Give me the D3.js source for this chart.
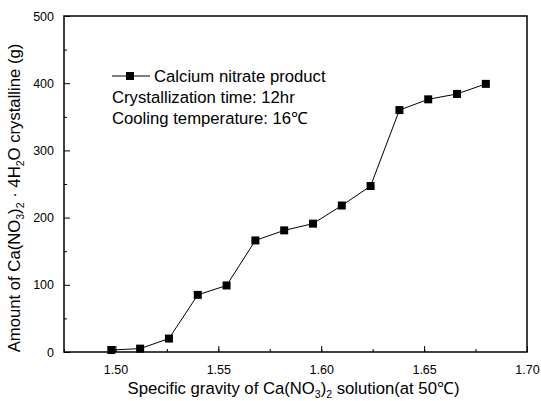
<!DOCTYPE html>
<html>
<head>
<meta charset="utf-8">
<script src="https://cdn.jsdelivr.net/npm/d3@7"></script>
<style>
  body { margin: 0; background: #fff; }
  text { font-family: "Liberation Sans", Arial, sans-serif; fill: #000; }
</style>
</head>
<body>
<svg id="chart"></svg>
<script>
// Data
const gravity = [1.498, 1.512, 1.526, 1.540, 1.554, 1.568, 1.582, 1.596, 1.610, 1.624, 1.638, 1.652, 1.666, 1.680];
const amount = [3, 5, 20, 85, 99, 166, 181, 191, 218, 247, 360, 376, 384, 399];
const xTicks = [1.50, 1.55, 1.60, 1.65, 1.70];
const yTicks = [0, 100, 200, 300, 400, 500];
const legendLines = ["Crystallization time: 12hr", "Cooling temperature: 16\u2103"];

const margin = { top: 16, right: 14, bottom: 49, left: 64 };
const W = 541, H = 401;
const width = W - margin.left - margin.right;
const height = H - margin.top - margin.bottom;
const big = "16.7px";

const svg = d3.select("#chart").attr("width", W).attr("height", H);
const g = svg.append("g").attr("transform", `translate(${margin.left},${margin.top})`);

const x = d3.scaleLinear().domain([1.475, 1.70]).range([0, width]);
const y = d3.scaleLinear().domain([0, 500]).range([height, 0]);

// minor ticks
const xMinor = d3.range(1.475, 1.7001, 0.025);
const yMinor = d3.range(50, 500, 100);

g.append("g")
  .attr("transform", `translate(0,${height})`)
  .call(d3.axisBottom(x).tickValues(xMinor).tickSize(-3).tickFormat(""))
  .call(a => a.select(".domain").remove());
g.append("g")
  .call(d3.axisLeft(y).tickValues(yMinor).tickSize(-3).tickFormat(""))
  .call(a => a.select(".domain").remove());

const xAxis = g.append("g")
  .attr("transform", `translate(0,${height})`)
  .call(d3.axisBottom(x).tickValues(xTicks).tickSize(-6).tickPadding(13).tickFormat(d3.format(".2f")));
xAxis.select(".domain").remove();
xAxis.selectAll("text").style("font-size", "12.5px");

const yAxis = g.append("g")
  .call(d3.axisLeft(y).tickValues(yTicks).tickSize(-6).tickPadding(10));
yAxis.select(".domain").remove();
yAxis.selectAll("text").style("font-size", "12.5px");

// frame
g.append("rect")
  .attr("width", width).attr("height", height)
  .attr("fill", "none").attr("stroke", "#000").attr("stroke-width", 1.5);

// series
const pts = gravity.map((v, i) => [v, amount[i]]);
g.append("path")
  .datum(pts)
  .attr("fill", "none").attr("stroke", "#000").attr("stroke-width", 1)
  .attr("d", d3.line().x(d => x(d[0])).y(d => y(d[1])));

const s = 8;
g.selectAll(".pt").data(pts).enter().append("rect")
  .attr("class", "pt")
  .attr("x", d => x(d[0]) - s / 2).attr("y", d => y(d[1]) - s / 2)
  .attr("width", s).attr("height", s).attr("fill", "#000");

// legend
const lg = svg.append("g").attr("transform", "translate(112,76)");
lg.append("line").attr("x1", 0).attr("x2", 38).attr("y1", 0).attr("y2", 0).attr("stroke", "#000");
lg.append("rect").attr("x", 14).attr("y", -4).attr("width", 8).attr("height", 8).attr("fill", "#000");
lg.append("text").attr("x", 42).attr("y", 0).attr("dy", "0.36em").style("font-size", big).text("Calcium nitrate product");
lg.selectAll(".note").data(legendLines).enter().append("text")
  .attr("class", "note")
  .attr("x", 0).attr("y", (d, i) => 21 + i * 20.5).attr("dy", "0.36em")
  .style("font-size", big).text(d => d);

// x title
const xt = svg.append("text")
  .attr("x", margin.left + width / 2 - 2).attr("y", 394)
  .attr("text-anchor", "middle").style("font-size", big);
xt.append("tspan").text("Specific gravity of Ca(NO");
xt.append("tspan").attr("dy", 4).style("font-size", "10.5px").text("3");
xt.append("tspan").attr("dy", -4).text(")");
xt.append("tspan").attr("dy", 4).style("font-size", "10.5px").text("2");
xt.append("tspan").attr("dy", -4).text(" solution(at 50\u2103)");

// y title
const yt = svg.append("text")
  .attr("transform", "translate(20,198) rotate(-90)")
  .attr("text-anchor", "middle").style("font-size", big);
yt.append("tspan").text("Amount of Ca(NO");
yt.append("tspan").attr("dy", 4).style("font-size", "10.5px").text("3");
yt.append("tspan").attr("dy", -4).text(")");
yt.append("tspan").attr("dy", 4).style("font-size", "10.5px").text("2");
yt.append("tspan").attr("dy", -4).text(" \u00b7 4H");
yt.append("tspan").attr("dy", 4).style("font-size", "10.5px").text("2");
yt.append("tspan").attr("dy", -4).text("O crystalline (g)");
</script>
</body>
</html>
